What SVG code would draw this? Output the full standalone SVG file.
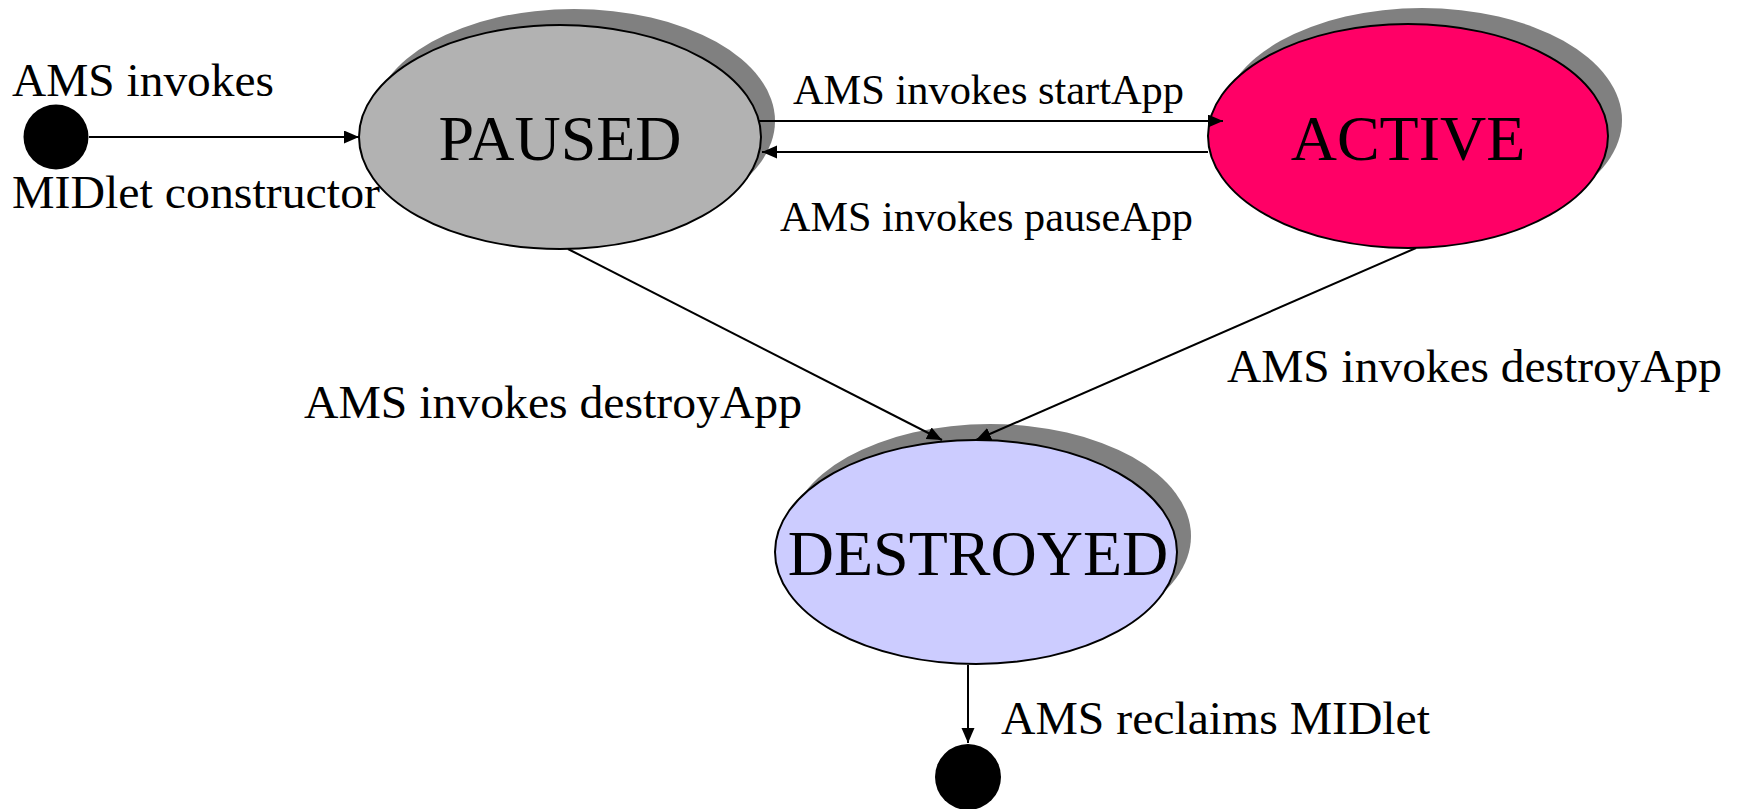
<svg xmlns="http://www.w3.org/2000/svg" width="1740" height="809" viewBox="0 0 1740 809">
<style>
text{font-family:"Liberation Serif","Times New Roman",serif;fill:#000}
.lbl{font-size:47px}
.lbl2{font-size:42px}
.state{font-size:64px;text-anchor:middle}
.shadow{fill:#808080;stroke:none}
.node{stroke:#000;stroke-width:2}
.edge{stroke:#000;stroke-width:2;fill:none}
.dot{fill:#000}
</style>
<defs>
<marker id="arr" markerUnits="userSpaceOnUse" markerWidth="16" markerHeight="14" refX="15" refY="6.5" orient="auto">
<path d="M0,0 L15,6.5 L0,13 Z" fill="#000"/>
</marker>
</defs>
<rect width="1740" height="809" fill="#fff"/>
<g id="start">
<circle class="dot" cx="56" cy="137" r="32.5"/>
</g>
<g id="paused">
<ellipse class="shadow" cx="574" cy="121" rx="201" ry="112"/>
<ellipse class="node" cx="560" cy="137" rx="201" ry="112" fill="#B2B2B2"/>
<text class="state" x="560" y="160">PAUSED</text>
</g>
<g id="active">
<ellipse class="shadow" cx="1422" cy="120" rx="200" ry="112"/>
<ellipse class="node" cx="1408" cy="136" rx="200" ry="112" fill="#FF0066"/>
<text class="state" x="1408" y="160">ACTIVE</text>
</g>
<g id="destroyed">
<ellipse class="shadow" cx="990" cy="536" rx="201" ry="112"/>
<ellipse class="node" cx="976" cy="552" rx="201" ry="112" fill="#CCCCFF"/>
<text class="state" x="978" y="575">DESTROYED</text>
</g>
<g id="end">
<circle class="dot" cx="968" cy="777" r="33"/>
</g>
<g id="connectors">
<line class="edge" x1="89" y1="137" x2="359" y2="137" marker-end="url(#arr)"/>
<line class="edge" x1="759" y1="121" x2="1223" y2="121" marker-end="url(#arr)"/>
<line class="edge" x1="1208" y1="152" x2="762" y2="152" marker-end="url(#arr)"/>
<line class="edge" x1="568" y1="249" x2="942" y2="440" marker-end="url(#arr)"/>
<line class="edge" x1="1416" y1="248" x2="976" y2="440" marker-end="url(#arr)"/>
<line class="edge" x1="968" y1="665" x2="968" y2="743" marker-end="url(#arr)"/>
</g>
<g id="labels">
<text class="lbl" x="12" y="96" textLength="262" lengthAdjust="spacingAndGlyphs">AMS invokes</text>
<text class="lbl" x="12" y="208" textLength="368" lengthAdjust="spacingAndGlyphs">MIDlet constructor</text>
<text class="lbl2" x="793" y="104" textLength="391" lengthAdjust="spacingAndGlyphs">AMS invokes startApp</text>
<text class="lbl2" x="780" y="231" textLength="413" lengthAdjust="spacingAndGlyphs">AMS invokes pauseApp</text>
<text class="lbl" x="304" y="418" textLength="498" lengthAdjust="spacingAndGlyphs">AMS invokes destroyApp</text>
<text class="lbl" x="1227" y="382" textLength="495" lengthAdjust="spacingAndGlyphs">AMS invokes destroyApp</text>
<text class="lbl" x="1001" y="734" textLength="429" lengthAdjust="spacingAndGlyphs">AMS reclaims MIDlet</text>
</g>
</svg>
